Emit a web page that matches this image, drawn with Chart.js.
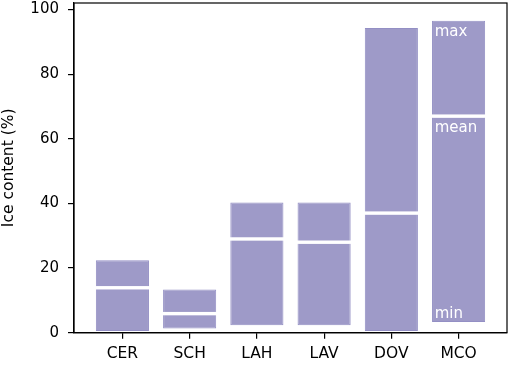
<!DOCTYPE html>
<html>
<head>
<meta charset="utf-8">
<script src="https://cdn.jsdelivr.net/npm/chart.js@4"></script>
<style>
html,body{margin:0;padding:0;background:#fff;}
#wrap{width:510px;height:365px;position:relative;}
</style>
</head>
<body>
<div id="wrap"><canvas id="c" width="510" height="365"></canvas></div>
<script>
const categories = ["CER", "SCH", "LAH", "LAV", "DOV", "MCO"];
const minValues  = [0.5, 1.3, 2.3, 2.3, 0.5, 3.3];
const meanValues = [13.9, 5.9, 29.0, 28.0, 37.0, 67.0];
const maxValues  = [22.4, 13.4, 40.3, 40.3, 94.3, 96.5];
const yTicks = [0, 20, 40, 60, 80, 100];
const markerLabels = ["max", "mean", "min"];

const FILL = '#9e9ac8';
const EDGE = '#938fc4';
const FONT = "'DejaVu Sans', sans-serif";

const lower = categories.map((c, i) => ({x: i, y: [minValues[i], meanValues[i]]}));
const upper = categories.map((c, i) => ({x: i, y: [meanValues[i], maxValues[i]]}));

const overlay = {
  id: 'overlay',
  afterDatasetsDraw(chart) {
    const ctx = chart.ctx;
    const ys = chart.scales.y;
    const meta = chart.getDatasetMeta(0);
    ctx.save();
    meta.data.forEach((bar, i) => {
      const w = bar.width;
      const y = ys.getPixelForValue(meanValues[i]);
      ctx.fillStyle = '#ffffff';
      ctx.fillRect(bar.x - w / 2 - 1, y - 1.7, w + 2, 3.4);
    });
    const last = categories.length - 1;
    const b = meta.data[last];
    const lx = b.x - b.width / 2 + 2.7;
    ctx.fillStyle = '#ffffff';
    ctx.font = "15px " + FONT;
    ctx.textAlign = 'left';
    ctx.textBaseline = 'alphabetic';
    ctx.fillText(markerLabels[0], lx, ys.getPixelForValue(maxValues[last]) + 15.5);
    ctx.fillText(markerLabels[1], lx, ys.getPixelForValue(meanValues[last]) + 16);
    ctx.fillText(markerLabels[2], lx, ys.getPixelForValue(minValues[last]) - 3.7);
    const a = chart.chartArea;
    ctx.strokeStyle = '#000';
    ctx.lineWidth = 1.2;
    ctx.strokeRect(a.left, a.top, a.right - a.left, a.bottom - a.top);
    ctx.restore();
  }
};

new Chart(document.getElementById('c'), {
  type: 'bar',
  data: {
    datasets: [
      {data: lower, backgroundColor: FILL, borderColor: EDGE, borderWidth: 1, borderSkipped: false},
      {data: upper, backgroundColor: FILL, borderColor: EDGE, borderWidth: 1, borderSkipped: false}
    ]
  },
  options: {
    responsive: false,
    animation: false,
    grouped: false,
    categoryPercentage: 1,
    barPercentage: 0.79,
    layout: {padding: {top: 3, right: 3, left: 0, bottom: 0}},
    plugins: {legend: {display: false}, tooltip: {enabled: false}},
    scales: {
      x: {
        type: 'linear',
        offset: false,
        min: -0.72, max: 5.72,
        afterBuildTicks(s) { s.ticks = categories.map((c, i) => ({value: i})); },
        afterFit(s) { s.height = 32.3; s.paddingLeft = 0; s.paddingRight = 0; },
        ticks: {
          autoSkip: false, maxRotation: 0,
          callback: (v) => categories[v],
          color: '#000', font: {family: FONT, size: 15.5}, padding: 6
        },
        grid: {display: true, offset: false, drawOnChartArea: false, drawTicks: true, tickLength: 6, color: '#000', lineWidth: 1.2},
        border: {display: true, color: '#000', width: 1.2}
      },
      y: {
        type: 'linear',
        min: 0, max: 102,
        afterBuildTicks(s) { s.ticks = yTicks.map(v => ({value: v})); },
        afterFit(s) { s.width = 74; s.paddingTop = 0; s.paddingBottom = 0; },
        ticks: {color: '#000', font: {family: FONT, size: 15}, padding: 9},
        grid: {display: true, drawOnChartArea: false, drawTicks: true, tickLength: 6, color: '#000', lineWidth: 1.2},
        border: {display: true, color: '#000', width: 1.2},
        title: {display: true, text: 'Ice content (%)', color: '#000', font: {family: FONT, size: 15.5}, padding: {top: 0, bottom: 2}}
      }
    }
  },
  plugins: [overlay]
});
</script>
</body>
</html>
